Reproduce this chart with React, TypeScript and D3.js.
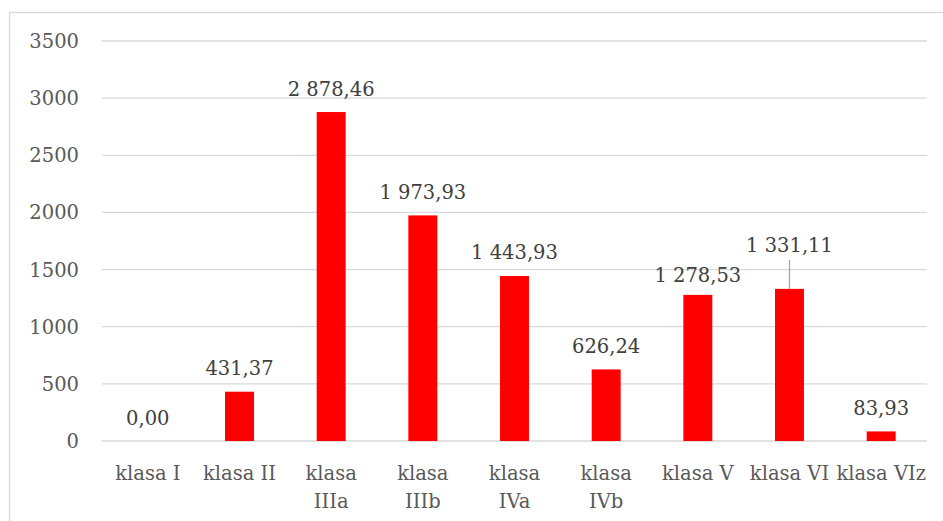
import React from "react";
import * as d3 from "d3";

const width = 943;
const height = 521;
const margin = { left: 102, right: 16, top: 41, bottom: 80 };

const categories = [
  "klasa I",
  "klasa II",
  "klasa IIIa",
  "klasa IIIb",
  "klasa IVa",
  "klasa IVb",
  "klasa V",
  "klasa VI",
  "klasa VIz"
];

// label lines for categories that wrap in the reference
const categoryLines = [
  ["klasa I"],
  ["klasa II"],
  ["klasa", "IIIa"],
  ["klasa", "IIIb"],
  ["klasa", "IVa"],
  ["klasa", "IVb"],
  ["klasa V"],
  ["klasa VI"],
  ["klasa VIz"]
];

const values = [0.0, 431.37, 2878.46, 1973.93, 1443.93, 626.24, 1278.53, 1331.11, 83.93];

const yTicks = [0, 500, 1000, 1500, 2000, 2500, 3000, 3500];

const fontFamily = "'DejaVu Serif', serif";
const fontSize = 19.5;

// polish number format: space for thousands, comma decimal
const plFormat = d3.formatLocale({
  decimal: ",",
  thousands: " ",
  grouping: [3],
  currency: ["", " zł"]
}).format(",.2f");

export default function App() {
  const x = d3
    .scaleBand()
    .domain(categories)
    .range([margin.left, width - margin.right])
    .padding(0);

  const y = d3.scaleLinear().domain([0, 3500]).range([441, 41]);

  const barW = x.bandwidth() * 0.316;

  return (
    <svg
      width={width}
      height={height}
      style={{ position: "absolute", left: 0, top: 0, background: "#fff" }}
      fontFamily={fontFamily}
    >
      <rect x={9.5} y={12.5} width={950} height={530} fill="#fff" stroke="#d9d9d9" strokeWidth={1.3} />

      {yTicks.map(t => (
        <g key={t}>
          <line
            x1={margin.left}
            x2={width - margin.right}
            y1={y(t)}
            y2={y(t)}
            stroke="#d9d9d9"
            strokeWidth={1.3}
          />
          <text x={79} y={y(t)} dy="0.36em" textAnchor="end" fontSize={fontSize} fill="#595959">
            {t}
          </text>
        </g>
      ))}

      {categories.map((c, i) => {
        const cx = x(c)! + x.bandwidth() / 2;
        const v = values[i];
        const top = y(v);
        const callout = c === "klasa VI";
        const labelY = callout ? 252 : c === "klasa V" ? top - 13 : top - 16.5;
        return (
          <g key={c}>
            {v > 0 && (
              <rect x={cx - barW / 2} y={top} width={barW} height={y(0) - top} fill="#ff0000" />
            )}
            {callout && (
              <line x1={cx} x2={cx} y1={260} y2={top} stroke="#a6a6a6" strokeWidth={1.3} />
            )}
            <text x={cx} y={labelY} textAnchor="middle" fontSize={fontSize} fill="#404040">
              {plFormat(v)}
            </text>
            <text x={cx} y={480} textAnchor="middle" fontSize={fontSize} fill="#595959">
              {categoryLines[i].map((l, j) => (
                <tspan key={j} x={cx} dy={j === 0 ? 0 : 28}>
                  {l}
                </tspan>
              ))}
            </text>
          </g>
        );
      })}
    </svg>
  );
}
